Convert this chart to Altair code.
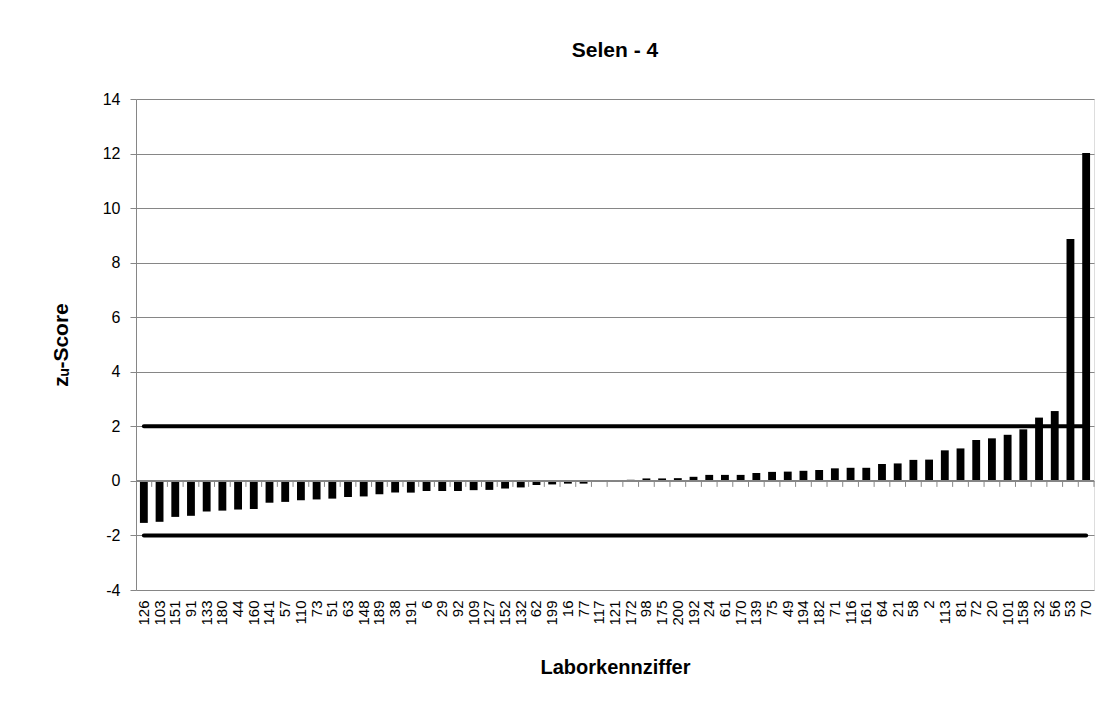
import altair as alt
import pandas as pd

# Laborkennziffer (category order as in the chart)
labels = ["126", "103", "151", "91", "133", "180", "44", "160", "141", "57",
          "110", "73", "51", "63", "148", "189", "38", "191", "6", "29",
          "92", "109", "127", "152", "132", "62", "199", "16", "77", "117",
          "121", "172", "98", "175", "200", "192", "24", "61", "170", "139",
          "75", "49", "194", "182", "71", "116", "161", "64", "21", "58",
          "2", "113", "81", "72", "20", "101", "158", "32", "56", "53", "70"]

# zU-Score values
scores = [-1.54, -1.50, -1.32, -1.28, -1.12, -1.09, -1.05, -1.03, -0.80, -0.77,
          -0.71, -0.68, -0.65, -0.59, -0.57, -0.49, -0.43, -0.43, -0.37, -0.37,
          -0.37, -0.34, -0.33, -0.28, -0.24, -0.15, -0.13, -0.10, -0.10, -0.04,
          -0.01, 0.04, 0.09, 0.09, 0.10, 0.15, 0.22, 0.22, 0.22, 0.29,
          0.33, 0.34, 0.37, 0.40, 0.46, 0.48, 0.48, 0.62, 0.64, 0.77,
          0.78, 1.12, 1.19, 1.50, 1.56, 1.69, 1.89, 2.32, 2.56, 8.87, 12.02]

# limit lines
upper_limit = 2
lower_limit = -2

y_ticks = [-4, -2, 0, 2, 4, 6, 8, 10, 12, 14]

df = pd.DataFrame({"Labor": labels, "z": scores})
lim_df = pd.DataFrame({
    "Labor": labels + labels,
    "z": [upper_limit] * len(labels) + [lower_limit] * len(labels),
    "g": ["upper"] * len(labels) + ["lower"] * len(labels),
})

W, H = 958, 491
ymin, ymax = -4, 14
step = W / len(labels)
tick_len = 6 * (ymax - ymin) / H  # 6 px expressed in data units

GRAY = "#868686"
FONT = "Liberation Sans"

xscale = alt.Scale(paddingInner=0.5, paddingOuter=0.25)
yscale = alt.Scale(domain=[ymin, ymax], nice=False, zero=False)

x_axis = alt.Axis(
    orient="bottom", title="Laborkennziffer", labelAngle=-90, labelAlign="right",
    labelBaseline="middle", ticks=False, domain=False, labelPadding=10,
    labelFontSize=15, labelColor="black", titleFontSize=20, titleFontWeight="bold",
    titleColor="black", titlePadding=32, grid=False, labelFont=FONT, titleFont=FONT,
    labelOverlap=False)

y_axis = alt.Axis(
    values=y_ticks, title="zᵤ-Score", grid=True, gridColor=GRAY, gridWidth=1,
    domainColor=GRAY, tickColor=GRAY, tickSize=6, labelPadding=10,
    labelExpr="'' + datum.value",
    labelFontSize=16, labelColor="black", titleFontSize=21, titleFontWeight="bold",
    titleColor="black", titlePadding=31, labelFont=FONT, titleFont=FONT)

x_enc = alt.X("Labor:N", sort=labels, scale=xscale, axis=x_axis)
y_enc = alt.Y("z:Q", scale=yscale, axis=y_axis)

bars = alt.Chart(df).mark_bar(color="black").encode(x=x_enc, y=y_enc)

zero_line = alt.Chart(df).mark_rule(color=GRAY, strokeWidth=1).encode(
    y=alt.Y("zero:Q", scale=yscale, axis=y_axis)
).transform_calculate(zero="0")

zero_ticks = alt.Chart(df).mark_rule(color=GRAY, strokeWidth=1, xOffset=step / 2).encode(
    x=x_enc,
    y=alt.datum(0),
    y2=alt.datum(-tick_len),
)

limits = alt.Chart(lim_df).mark_line(color="black", strokeWidth=4, strokeCap="round").encode(
    x=x_enc,
    y=y_enc,
    detail="g:N",
)

chart = alt.layer(bars, zero_line, zero_ticks, limits).properties(
    width=W, height=H,
    title=alt.TitleParams("Selen - 4", fontSize=21, fontWeight="bold", font=FONT,
                          color="black", frame="group", anchor="middle", offset=30),
    padding={"left": 42, "top": 32, "right": 5, "bottom": 5},
).configure_view(stroke=None).configure(background="white")

chart.save("out.html", embed_options={"renderer": "svg", "actions": False})
